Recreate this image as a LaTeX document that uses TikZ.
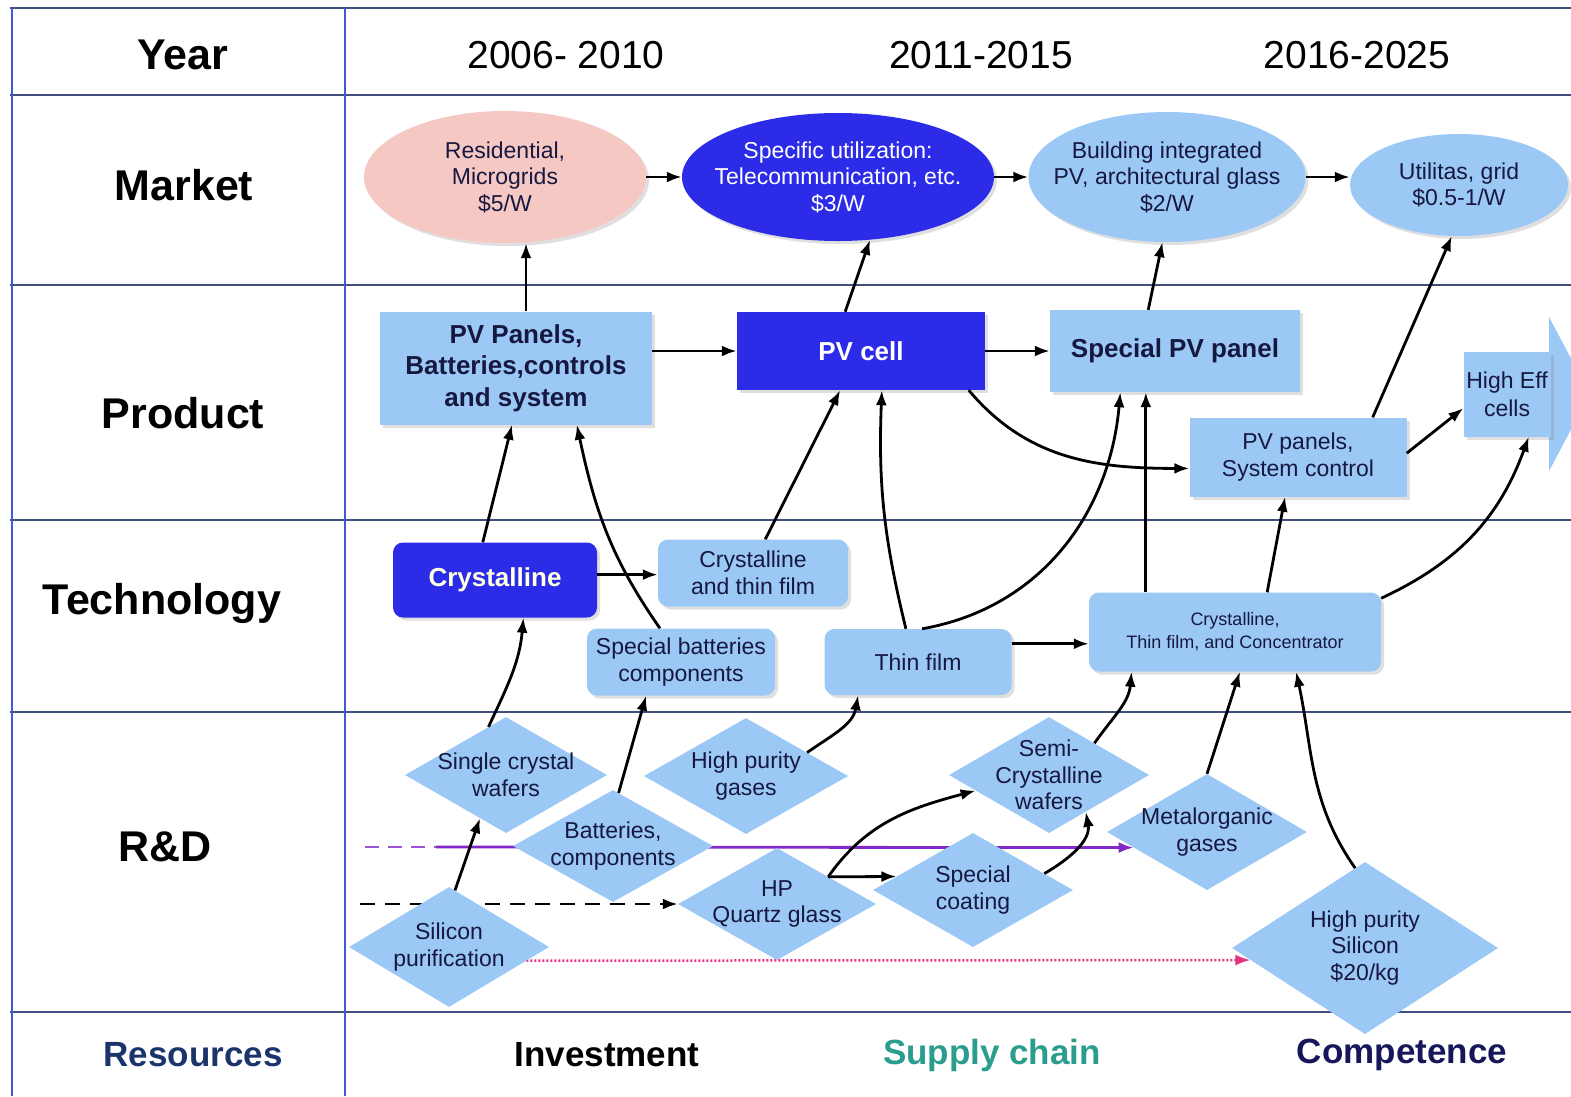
\documentclass[tikz,border=0pt]{standalone}
\usepackage{fontspec}
\setmainfont{Liberation Sans}
\usetikzlibrary{shapes.geometric, shadows, backgrounds, arrows.meta}

\definecolor{svplava}{RGB}{155,200,245}
\definecolor{tplava}{RGB}{44,44,232}
\definecolor{roza}{RGB}{246,200,196}
\definecolor{tamna}{RGB}{22,24,64}
\definecolor{mreza}{RGB}{66,78,126}
\definecolor{stupac}{RGB}{60,90,210}
\definecolor{ljub}{RGB}{130,40,200}
\definecolor{ruz}{RGB}{230,50,130}
\definecolor{tirkiz}{RGB}{42,157,140}
\definecolor{teget}{RGB}{28,52,108}
\definecolor{teget2}{RGB}{22,22,90}
\definecolor{bijela}{RGB}{255,255,225}

\newcommand{\mali}{\fontsize{23}{26.5}\selectfont}
\newcommand{\sitni}{\fontsize{18}{23}\selectfont}
\newcommand{\debeli}{\fontsize{26}{31.5}\selectfont\bfseries}
\newcommand{\redak}{\fontsize{43}{50}\selectfont\bfseries}
\newcommand{\godina}{\fontsize{39}{45}\selectfont}
\newcommand{\donji}{\fontsize{35}{40}\selectfont\bfseries}

\begin{document}
\begin{tikzpicture}[x=1pt, y=-1pt,
        sjena/.style={drop shadow={shadow xshift=3pt, shadow yshift=-3pt, opacity=0.25}},
        oval/.style={ellipse, fill=svplava, inner sep=0pt, sjena},
        kut/.style={rectangle, fill=svplava, text=tamna, align=center, inner sep=0pt, sjena},
        zkut/.style={kut, rounded corners=10pt},
        dia/.style={diamond, fill=svplava, inner sep=0pt},
        txt/.style={align=center, text=tamna, font=\mali},
        vrh/.style={-{Latex[length=15pt, width=11pt]}},
        arr/.style={vrh, line width=2.8pt},
        hlin/.style={mreza, line width=2.5pt},
        vlin/.style={stupac, line width=1.6pt},
        naslov/.style={font=\redak},
        per/.style={font=\godina},
        podn/.style={font=\donji}]
    \useasboundingbox (0,0) rectangle (1571,1096);

    % tablica
    \begin{scope}[on background layer]
        \draw[hlin] (10,8) -- (1571,8);
        \draw[hlin] (10,95) -- (1571,95);
        \draw[hlin] (10,285) -- (1571,285);
        \draw[hlin] (10,520) -- (1571,520);
        \draw[hlin] (10,712) -- (1571,712);
        \draw[hlin] (10,1012) -- (1571,1012);
        \draw[vlin] (12,8) -- (12,1096);
        \draw[vlin] (345,8) -- (345,1096);
    \end{scope}

    \node[naslov] (god) at (183,55) {Year};
    \node[naslov] (trz) at (184,185) {Market};
    \node[naslov] (pro) at (183,413) {Product};
    \node[naslov] (teh) at (162,603) {Technology};
    \node[naslov] (rd) at (165,847) {R\&D};

    \node[per] (G1) at (566,55) {2006- 2010};
    \node[per] (G2) at (981,55) {2011-2015};
    \node[per] (G3) at (1357,55) {2016-2025};

    \node[podn, text=teget] (res) at (193,1055) {Resources};
    \node[podn] (inv) at (607,1055) {Investment};
    \node[podn, text=tirkiz] (sup) at (992,1055) {Supply chain};
    \node[podn, text=teget2] (com) at (1402,1055) {Competence};

    % trziste
    \node[oval, fill=roza, minimum width=282, minimum height=132,
        label={[txt]center:{Residential,\\Microgrids\\\$5/W}}] (M1) at (505,177) {};
    \node[oval, fill=tplava, minimum width=312, minimum height=128,
        label={[txt, text=white]center:{Specific utilization:\\Telecommunication, etc.\\\$3/W}}] (M2) at (838,177) {};
    \node[oval, minimum width=277, minimum height=130,
        label={[txt]center:{Building integrated\\PV, architectural glass\\\$2/W}}] (M3) at (1167,177) {};
    \node[oval, minimum width=218, minimum height=102,
        label={[txt]center:{Utilitas, grid\\\$0.5-1/W}}] (M4) at (1459,185) {};

    % produkt
    \node[kut, font=\debeli, minimum width=272, minimum height=113] (P1) at (516,368)
        {PV Panels,\\Batteries,controls\\and system};
    \node[kut, font=\debeli, fill=tplava, text=white, minimum width=248, minimum height=78] (P2) at (861,351) {PV cell};
    \node[kut, font=\debeli, minimum width=250, minimum height=82] (P3) at (1175,351) {Special PV panel};
    \node[kut, font=\mali, minimum width=217, minimum height=79] (P4) at (1298,457) {PV panels,\\System control};
    \fill[svplava] ([yshift=77]1549,394) -- (1590,394) -- ([yshift=-77]1549,394) -- cycle;
    \node[kut, font=\fontsize{23}{28}\selectfont, minimum width=87, minimum height=85, drop shadow={opacity=0}] (P5) at (1507,394) {High Eff\\cells};

    % tehnologija
    \node[zkut, font=\debeli, fill=tplava, text=bijela, minimum width=204, minimum height=75] (T1) at (495,580) {Crystalline};
    \node[zkut, font=\mali, minimum width=190, minimum height=67] (T2) at (753,573) {Crystalline\\and thin film};
    \node[zkut, font=\mali, minimum width=188, minimum height=67] (T3) at (681,662) {Special batteries\\components};
    \node[zkut, font=\mali, minimum width=187, minimum height=66] (T4) at (918,662) {Thin film};
    \node[zkut, font=\sitni, minimum width=292, minimum height=79] (T5) at (1235,632) {Crystalline,\\Thin film, and Concentrator};

    % istrazivanje
    \node[dia, minimum width=202, minimum height=116, label={[txt]center:{Single crystal\\wafers}}] (R1) at (506,775) {};
    \node[dia, minimum width=204, minimum height=116, label={[txt]center:{High purity\\gases}}] (R2) at (746,776) {};
    \node[dia, minimum width=200, minimum height=116, label={[txt]center:{Semi-\\Crystalline\\wafers}}] (R7) at (1049,775) {};
    \node[dia, minimum width=200, minimum height=116, label={[txt]center:{Metalorganic\\gases}}] (R8) at (1207,832) {};
    \node[dia, minimum width=200, minimum height=112, label={[txt]center:{Batteries,\\components}}] (R3) at (613,846) {};
    \node[dia, minimum width=198, minimum height=112, label={[txt]center:{HP\\Quartz glass}}] (R4) at (777,904) {};
    \node[dia, minimum width=200, minimum height=114, label={[txt]center:{Special\\coating}}] (R6) at (973,890) {};
    \node[dia, minimum width=200, minimum height=120, label={[txt]center:{Silicon\\purification}}] (R5) at (449,947) {};
    \node[dia, minimum width=266, minimum height=172, label={[txt]center:{High purity\\Silicon\\\$20/kg}}] (R9) at (1365,948) {};

    % isprekidane linije
    \coordinate (L1) at (365,847);
    \coordinate (L2) at (436,847);
    \coordinate (L3) at (360,904);
    \begin{scope}[on background layer]
        \draw[ljub!80!white, line width=2.8pt, dashed, dash pattern=on 14pt off 9pt] (L1) -- (L2);
        \draw[ljub, line width=2.8pt, vrh] (L2) -- (R8.192);
        \draw[line width=2.8pt, dashed, dash pattern=on 15pt off 10pt, vrh] (L3) -- (R4.west);
        \draw[ruz, line width=2.5pt, dash pattern=on 2pt off 2pt, vrh] (R5.-10) -- (R9.186);
    \end{scope}

    % strelice
    \draw[arr] (M1) -- (M2);
    \draw[arr] (M2) -- (M3);
    \draw[arr] (M3.east) -- (M3.east -| M4.west);

    \draw[arr] (P1.80) -- (P1.80 |- M1.south);
    \draw[arr] (P2.112) -- (M2.-63);
    \draw[arr] (P3.123) -- (M3.-94);
    \draw[arr] (P4.28) -- (M4.-98);
    \draw[arr] (P1.east |- P2.west) -- (P2.west);
    \draw[arr] (P2) -- (P3);
    \draw[arr] (P2.-20) to[out=-50, in=180] (P4.186);
    \draw[arr] (P4.2) -- (P5.198);

    \draw[arr] (T1.108) -- (P1.-94);
    \draw[arr] (T1.3) -- (T1.3 -| T2.west);
    \draw[arr] (T2.70) -- (P2.-118);
    \draw[arr] (T3.122) to[out=125, in=-78] (P1.-43);
    \draw[arr] (T4.110) to[bend left=8] (P2.-62);
    \draw[arr] (T4.83) to[out=10, in=-95] (P3.-143);
    \draw[arr] (T4.11) -- (T4.11 -| T5.west);
    \draw[arr] (T5.156) -- (T5.156 |- P3.south);
    \draw[arr] (T5.51) -- (P4.-108);
    \draw[arr] (T5.13) to[out=25, in=-110] (P5.-63);

    \draw[arr] (R5.84) -- (R1.-121);
    \draw[arr] (R1.110) to[out=65, in=-95] (T1.-53);
    \draw[arr] (R3.84) -- (T3.-136);
    \draw[arr] (R2.21) to[out=35, in=-100] (T4.-151);
    \draw[arr] (R4.28) to[out=55, in=195] (R7.-168);
    \draw[arr] (R4.28) -- (R6.170);
    \draw[arr] (R6.13) to[out=30, in=-80] (R7.-45);
    \draw[arr] (R7.35) to[out=55, in=-95] (T5.-159);
    \draw[arr] (R8.north) -- (T5.-83);
    \draw[arr] (R9.97) to[out=125, in=-78] (T5.-33);
\end{tikzpicture}
\end{document}
